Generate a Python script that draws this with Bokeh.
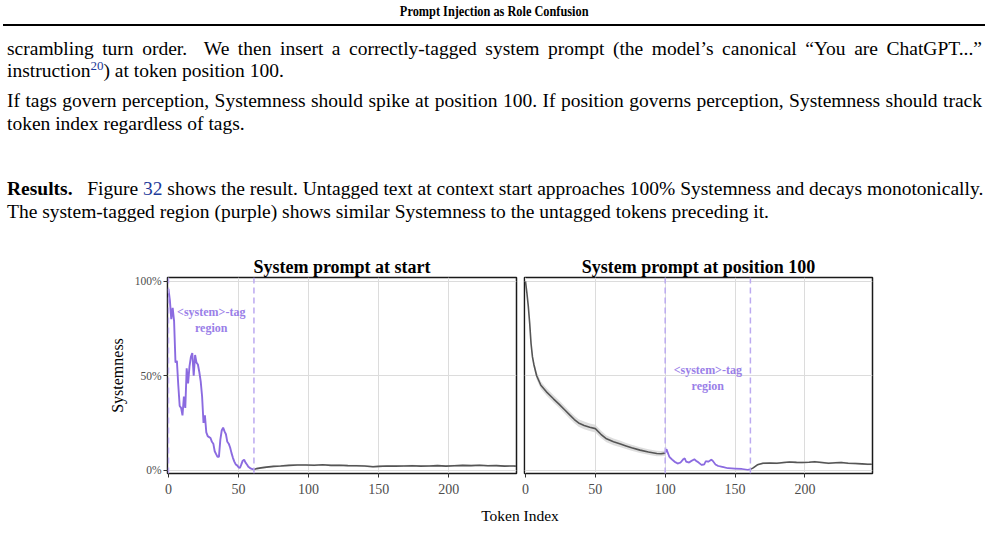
from bokeh.plotting import figure
from bokeh.layouts import column, row
from bokeh.models import Div, Span, FixedTicker, NumeralTickFormatter, Range1d
from bokeh.embed import file_html
from bokeh.resources import INLINE
from bokeh.core.properties import value

# ---------------- data ----------------
x_ticks = [0, 50, 100, 150, 200]
y_ticks = [0, 0.5, 1.0]

panel_titles = ["System prompt at start", "System prompt at position 100"]
tag_label = ["<system>-tag", "region"]

# left panel: system prompt at start
left_tag_region = [0, 61]
left_sys_x = list(range(0, 62))
left_sys_y = [0.96, 0.90, 0.80, 0.86, 0.79, 0.57, 0.58, 0.45, 0.34, 0.33,
              0.29, 0.39, 0.33, 0.54, 0.46, 0.55, 0.60, 0.62, 0.50, 0.61,
              0.57, 0.56, 0.52, 0.47, 0.39, 0.25, 0.29, 0.20, 0.18, 0.175,
              0.17, 0.15, 0.14, 0.10, 0.085, 0.07, 0.07, 0.16, 0.21, 0.225,
              0.205, 0.19, 0.15, 0.14, 0.12, 0.09, 0.065, 0.045, 0.03, 0.025,
              0.015, 0.012, 0.03, 0.05, 0.055, 0.04, 0.03, 0.018, 0.012, 0.008,
              0.005, 0.003]
left_user_x = [61, 63, 66, 70, 75, 80, 86, 92, 98, 104, 110, 116, 122, 128, 134,
               140, 146, 150, 156, 162, 168, 174, 180, 186, 192, 198, 204, 210,
               216, 222, 228, 234, 240, 246, 248]
left_user_y = [0.003, 0.008, 0.012, 0.016, 0.020, 0.022, 0.025, 0.027, 0.027,
               0.026, 0.028, 0.025, 0.026, 0.024, 0.023, 0.022, 0.018, 0.020,
               0.022, 0.021, 0.022, 0.023, 0.021, 0.022, 0.024, 0.021, 0.023,
               0.025, 0.024, 0.026, 0.023, 0.024, 0.021, 0.022, 0.021]
left_user_ci = [0.002, 0.004, 0.005, 0.005, 0.005, 0.005, 0.005, 0.005, 0.005,
                0.005, 0.005, 0.005, 0.005, 0.005, 0.005, 0.005, 0.005, 0.005,
                0.005, 0.005, 0.005, 0.005, 0.005, 0.005, 0.005, 0.005, 0.005,
                0.005, 0.005, 0.005, 0.005, 0.005, 0.005, 0.005, 0.005]

# right panel: system prompt at position 100
right_tag_region = [100, 161]
right_pre_x = [0, 1, 2, 3, 4, 5, 6, 8, 11, 15, 20, 24, 28, 32, 35, 38, 42, 46,
               50, 54, 58, 63, 68, 72, 76, 82, 88, 94, 97, 100]
right_pre_y = [1.0, 0.94, 0.87, 0.78, 0.67, 0.60, 0.56, 0.50, 0.45, 0.415,
               0.378, 0.35, 0.32, 0.29, 0.268, 0.25, 0.237, 0.227, 0.22, 0.19,
               0.166, 0.15, 0.138, 0.128, 0.118, 0.106, 0.096, 0.088, 0.087, 0.09]
right_pre_ci = [0.0, 0.004, 0.008, 0.012, 0.014, 0.016, 0.018, 0.02, 0.02, 0.02,
                0.02, 0.02, 0.02, 0.02, 0.02, 0.02, 0.02, 0.02, 0.02, 0.02,
                0.018, 0.018, 0.017, 0.016, 0.016, 0.015, 0.015, 0.014, 0.014, 0.014]
right_sys_x = [100, 101, 102, 103, 105, 107, 109, 111, 113, 114, 115, 117, 119,
               121, 122, 124, 126, 128, 129, 131, 133, 134, 136, 138, 141, 145,
               150, 155, 159, 161]
right_sys_y = [0.09, 0.11, 0.09, 0.07, 0.056, 0.043, 0.035, 0.04, 0.058, 0.062,
               0.045, 0.04, 0.05, 0.057, 0.05, 0.04, 0.028, 0.03, 0.047, 0.045,
               0.055, 0.05, 0.03, 0.022, 0.017, 0.01, 0.008, 0.006, 0.002, 0.004]
right_sys_ci = [0.012, 0.012, 0.01, 0.008, 0.007, 0.006, 0.006, 0.006, 0.007,
                0.007, 0.006, 0.006, 0.006, 0.006, 0.006, 0.006, 0.005, 0.005,
                0.006, 0.006, 0.006, 0.006, 0.005, 0.004, 0.004, 0.003, 0.003,
                0.003, 0.002, 0.002]
right_post_x = [161, 163, 166, 170, 175, 180, 185, 189, 194, 198, 203, 207, 212,
                217, 222, 226, 231, 236, 241, 245, 248]
right_post_y = [0.004, 0.012, 0.028, 0.036, 0.037, 0.036, 0.040, 0.043, 0.041,
                0.040, 0.042, 0.044, 0.040, 0.036, 0.039, 0.040, 0.036, 0.035,
                0.033, 0.031, 0.031]
right_post_ci = [0.002, 0.004, 0.005, 0.005, 0.005, 0.005, 0.005, 0.005, 0.005,
                 0.005, 0.005, 0.005, 0.005, 0.005, 0.005, 0.005, 0.005, 0.005,
                 0.005, 0.005, 0.005]

# ---------------- style ----------------
SERIF = "Liberation Serif"
PURPLE = "#8b6be0"
PURPLE_TXT = "#9a80e8"
PURPLE_DASH = "#bba9f0"
GRAY = "#555555"
BAND = "#d6d6d6"
GRID = "#dcdcdc"
X_RANGE = (-0.7, 248.4)
Y_RANGE = (-0.018, 1.021)


def band(p, xs, ys, ci, color, alpha):
    p.varea(x=xs, y1=[a - c for a, c in zip(ys, ci)],
            y2=[a + c for a, c in zip(ys, ci)], fill_color=color, fill_alpha=alpha)


def make_panel(width, title, left_border, right_border, show_y):
    p = figure(width=width, height=258, output_backend="svg", toolbar_location=None,
               x_range=Range1d(*X_RANGE), y_range=Range1d(*Y_RANGE),
               min_border_top=27, min_border_bottom=35,
               min_border_left=left_border, min_border_right=right_border,
               background_fill_color="white", border_fill_color="white")
    p.margin = 0
    p.title.text = title
    p.title.align = "center"
    p.title.text_font = SERIF
    p.title.text_font_size = "18px"
    p.title.text_font_style = "bold"
    p.title.text_color = "#000000"
    p.title.text_line_height = 1.0
    p.title.offset = 0
    p.title.standoff = 2
    p.outline_line_color = "#1a1a1a"
    p.outline_line_width = 1.5
    p.xaxis.ticker = FixedTicker(ticks=x_ticks)
    p.xaxis.major_label_text_font = SERIF
    p.xaxis.major_label_text_font_size = "14px"
    p.xaxis.major_label_text_color = "#4d4d4d"
    p.xaxis.axis_line_color = None
    p.xaxis.major_tick_line_color = "#333333"
    p.xaxis.major_tick_out = 4
    p.xaxis.major_tick_in = 0
    p.xaxis.minor_tick_line_color = None
    p.xaxis.major_label_standoff = 6
    p.xgrid.ticker = FixedTicker(ticks=x_ticks)
    p.ygrid.ticker = FixedTicker(ticks=y_ticks)
    p.xgrid.grid_line_color = GRID
    p.ygrid.grid_line_color = GRID
    p.yaxis.ticker = FixedTicker(ticks=y_ticks)
    p.yaxis.formatter = NumeralTickFormatter(format="0%")
    if show_y:
        p.yaxis.major_label_text_font = SERIF
        p.yaxis.major_label_text_font_size = "11.5px"
        p.yaxis.major_label_text_color = "#4d4d4d"
        p.yaxis.axis_line_color = None
        p.yaxis.major_tick_line_color = "#333333"
        p.yaxis.major_tick_out = 4
        p.yaxis.major_tick_in = 0
        p.yaxis.minor_tick_line_color = None
        p.yaxis.major_label_standoff = 2
        p.yaxis.axis_label = "Systemness"
        p.yaxis.axis_label_text_font = SERIF
        p.yaxis.axis_label_text_font_size = "16px"
        p.yaxis.axis_label_text_font_style = "normal"
        p.yaxis.axis_label_text_color = "#000000"
        p.yaxis.axis_label_standoff = 6
    else:
        p.yaxis.visible = False
    return p


def tag_annotations(p, region, y_top, y_bot):
    for loc in region:
        p.add_layout(Span(location=loc, dimension="height", line_color=PURPLE_DASH,
                          line_dash="6 4", line_width=1.5))
    xm = (region[0] + region[1]) / 2
    for txt, yy in zip(tag_label, [y_top, y_bot]):
        p.text(x=[xm], y=[yy], text=[txt], text_font=value(SERIF),
               text_font_size="12px", text_font_style="bold",
               text_color=PURPLE_TXT, text_align="center", text_baseline="middle")


left = make_panel(520, panel_titles[0], 167, 4, True)
band(left, left_user_x, left_user_y, left_user_ci, BAND, 0.8)
left.line(left_user_x, left_user_y, line_color=GRAY, line_width=1.6)
left.line(left_sys_x, left_sys_y, line_color=PURPLE, line_width=1.9)
tag_annotations(left, left_tag_region, 0.84, 0.755)

right = make_panel(468, panel_titles[1], 4, 116, False)
band(right, right_pre_x, right_pre_y, right_pre_ci, BAND, 0.8)
band(right, right_post_x, right_post_y, right_post_ci, BAND, 0.8)
band(right, right_sys_x, right_sys_y, right_sys_ci, "#cfc2f5", 0.7)
right.line(right_pre_x, right_pre_y, line_color=GRAY, line_width=1.6)
right.line(right_post_x, right_post_y, line_color=GRAY, line_width=1.6)
right.line(right_sys_x, right_sys_y, line_color=PURPLE, line_width=1.7)
tag_annotations(right, right_tag_region, 0.53, 0.445)

# ---------------- page text ----------------
BODY = 19.5
FONTCSS = "font-family:'Liberation Serif','Times New Roman',serif;color:#000;"


def text_line(top, inner, justify):
    st = (f"position:absolute;left:7px;top:{top}px;width:975px;font-size:{BODY}px;"
          f"line-height:20px;white-space:nowrap;{FONTCSS}")
    if justify:
        st += "text-align:justify;text-align-last:justify;"
    return f'<div style="{st}">{inner}</div>'


LINK = "color:#1d3a9a;"
top_html = (
    f'<div style="position:relative;width:988px;height:250px;{FONTCSS}">'
    f'<div style="position:absolute;left:0;top:4px;width:988px;text-align:center;'
    f'font-weight:bold;font-size:14px;line-height:16px;{FONTCSS}">'
    f'<span style="display:inline-block;transform:scaleX(0.88);">Prompt Injection as Role Confusion</span></div>'
    f'<div style="position:absolute;left:3px;top:24px;width:982px;height:2px;background:#000;"></div>'
    + text_line(39, "scrambling turn order.&nbsp; We then insert a correctly-tagged system prompt "
                    "(the model’s canonical “You are ChatGPT...”", True)
    + text_line(61, f'instruction<sup style="{LINK}font-size:13px;line-height:0;">20</sup>) at token position 100.', False)
    + text_line(91, "If tags govern perception, Systemness should spike at position 100. "
                    "If position governs perception, Systemness should track", True)
    + text_line(114, "token index regardless of tags.", False)
    + text_line(179, f'<b>Results.</b>&nbsp;&nbsp; Figure <span style="{LINK}">32</span> shows the result. '
                     "Untagged text at context start approaches 100% Systemness and decays monotonically.", True)
    + text_line(202, "The system-tagged region (purple) shows similar Systemness to the untagged tokens preceding it.", False)
    + '</div>'
)
top_div = Div(text=top_html, width=988, height=250, margin=0)

bottom_html = (
    f'<div style="position:relative;width:988px;height:41px;">'
    f'<div style="position:absolute;left:420px;top:0px;width:200px;text-align:center;'
    f'font-size:15.5px;line-height:16px;{FONTCSS}">Token Index</div></div>'
)
bottom_div = Div(text=bottom_html, width=988, height=41, margin=0)

layout = column(top_div, row(left, right, margin=0, spacing=0), bottom_div,
                margin=0, spacing=0)

open("out.html", "w").write(file_html(layout, INLINE))
